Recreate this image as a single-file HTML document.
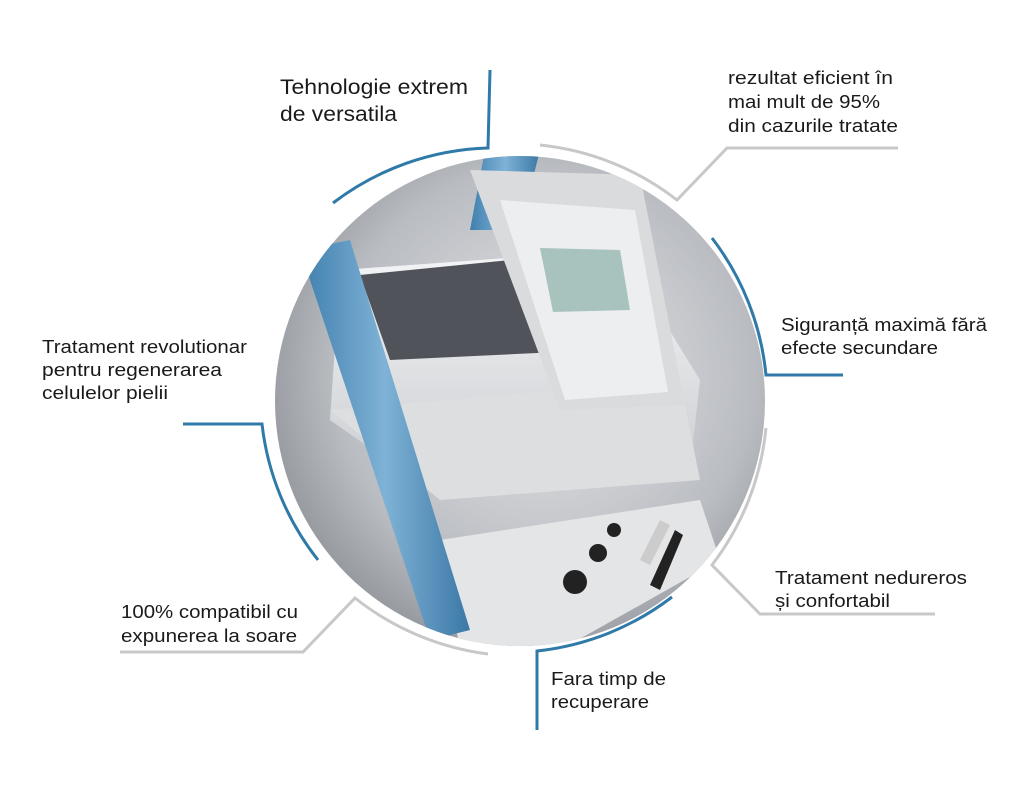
<!DOCTYPE html>
<html><head><meta charset="utf-8"><style>
html,body{margin:0;padding:0;background:#fff;}
svg{display:block}
text{font-family:"Liberation Sans",sans-serif;fill:#1a1a1a}
</style></head><body>
<svg width="1024" height="785" viewBox="0 0 1024 785">
<defs>
<radialGradient id="bg" cx="0.55" cy="0.45" r="0.6">
<stop offset="0" stop-color="#e6e7e9"/><stop offset="0.7" stop-color="#b9bcc1"/><stop offset="1" stop-color="#8e9298"/>
</radialGradient>
<linearGradient id="pole" x1="0" y1="0" x2="1" y2="0">
<stop offset="0" stop-color="#3f7fae"/><stop offset="0.5" stop-color="#7fb2d6"/><stop offset="1" stop-color="#3b78a6"/>
</linearGradient>
<linearGradient id="white" x1="0" y1="0" x2="0" y2="1">
<stop offset="0" stop-color="#f4f5f6"/><stop offset="1" stop-color="#c9ccd0"/>
</linearGradient>
<clipPath id="c"><circle cx="520" cy="401" r="245"/></clipPath>
</defs>
<g clip-path="url(#c)">
<rect x="270" y="150" width="500" height="500" fill="url(#bg)"/>
<polygon points="485,150 540,150 520,230 470,230" fill="url(#pole)"/>
<path d="M340,270 L620,250 L700,380 L690,470 L430,490 L330,420 Z" fill="url(#white)"/>
<path d="M360,275 L560,255 L600,350 L390,360 Z" fill="#50545a"/>
<path d="M330,410 L680,380 L700,480 L440,500 Z" fill="#dcdee0"/>
<polygon points="470,170 640,175 685,405 560,410" fill="#d9dbdd"/>
<polygon points="500,200 635,210 668,392 565,400" fill="#eceeef"/>
<polygon points="540,248 620,250 630,310 553,312" fill="#a8c3bd"/>
<path d="M440,540 L700,500 L720,560 L560,650 L460,650 Z" fill="#e4e5e7"/>
<circle cx="575" cy="582" r="12" fill="#222"/><circle cx="598" cy="553" r="9" fill="#222"/><circle cx="614" cy="530" r="7" fill="#222"/>
<path d="M640,560 L660,520 L670,525 L650,565 Z" fill="#ccc"/>
<path d="M650,585 L675,530 L683,535 L660,590 Z" fill="#222"/>
<polygon points="300,250 350,240 470,630 430,640" fill="url(#pole)"/>
</g>
<g fill="none" stroke-width="3">
<path d="M333,203 A268,268 0 0 1 488,148 L490,70" stroke="#2f7aa8"/>
<path d="M540,145 A268,268 0 0 1 677,200 L727,148 L898,148" stroke="#c8c8c8"/>
<path d="M712,238 A268,268 0 0 1 766,375 L843,375" stroke="#2f7aa8"/>
<path d="M766,428 A268,268 0 0 1 712,565 L760,614 L935,614" stroke="#c8c8c8"/>
<path d="M672,597 A268,268 0 0 1 537,651 L537,730" stroke="#2f7aa8"/>
<path d="M488,654 A268,268 0 0 1 355,598 L303,652 L120,652" stroke="#c8c8c8"/>
<path d="M318,560 A268,268 0 0 1 262,424 L183,424" stroke="#2f7aa8"/>
</g>
<g font-size="21">
<text x="280" y="94" textLength="188" lengthAdjust="spacingAndGlyphs">Tehnologie extrem</text>
<text x="280" y="121" textLength="117" lengthAdjust="spacingAndGlyphs">de versatila</text></g>
<g font-size="18">
<text x="728" y="84" textLength="165" lengthAdjust="spacingAndGlyphs">rezultat eficient în</text>
<text x="728" y="108" textLength="152" lengthAdjust="spacingAndGlyphs">mai mult de 95%</text>
<text x="728" y="132" textLength="170" lengthAdjust="spacingAndGlyphs">din cazurile tratate</text>
<text x="781" y="331" textLength="206" lengthAdjust="spacingAndGlyphs">Siguranță maximă fără</text>
<text x="781" y="354" textLength="157" lengthAdjust="spacingAndGlyphs">efecte secundare</text>
<text x="42" y="353" textLength="205" lengthAdjust="spacingAndGlyphs">Tratament revolutionar</text>
<text x="42" y="376" textLength="180" lengthAdjust="spacingAndGlyphs">pentru regenerarea</text>
<text x="42" y="399" textLength="126" lengthAdjust="spacingAndGlyphs">celulelor pielii</text>
<text x="775" y="584" textLength="192" lengthAdjust="spacingAndGlyphs">Tratament nedureros</text>
<text x="775" y="607" textLength="115" lengthAdjust="spacingAndGlyphs">și confortabil</text>
<text x="121" y="618" textLength="177" lengthAdjust="spacingAndGlyphs">100% compatibil cu</text>
<text x="121" y="642" textLength="176" lengthAdjust="spacingAndGlyphs">expunerea la soare</text>
<text x="551" y="685" textLength="115" lengthAdjust="spacingAndGlyphs">Fara timp de</text>
<text x="551" y="708" textLength="98" lengthAdjust="spacingAndGlyphs">recuperare</text>
</g>
</svg>
</body></html>
